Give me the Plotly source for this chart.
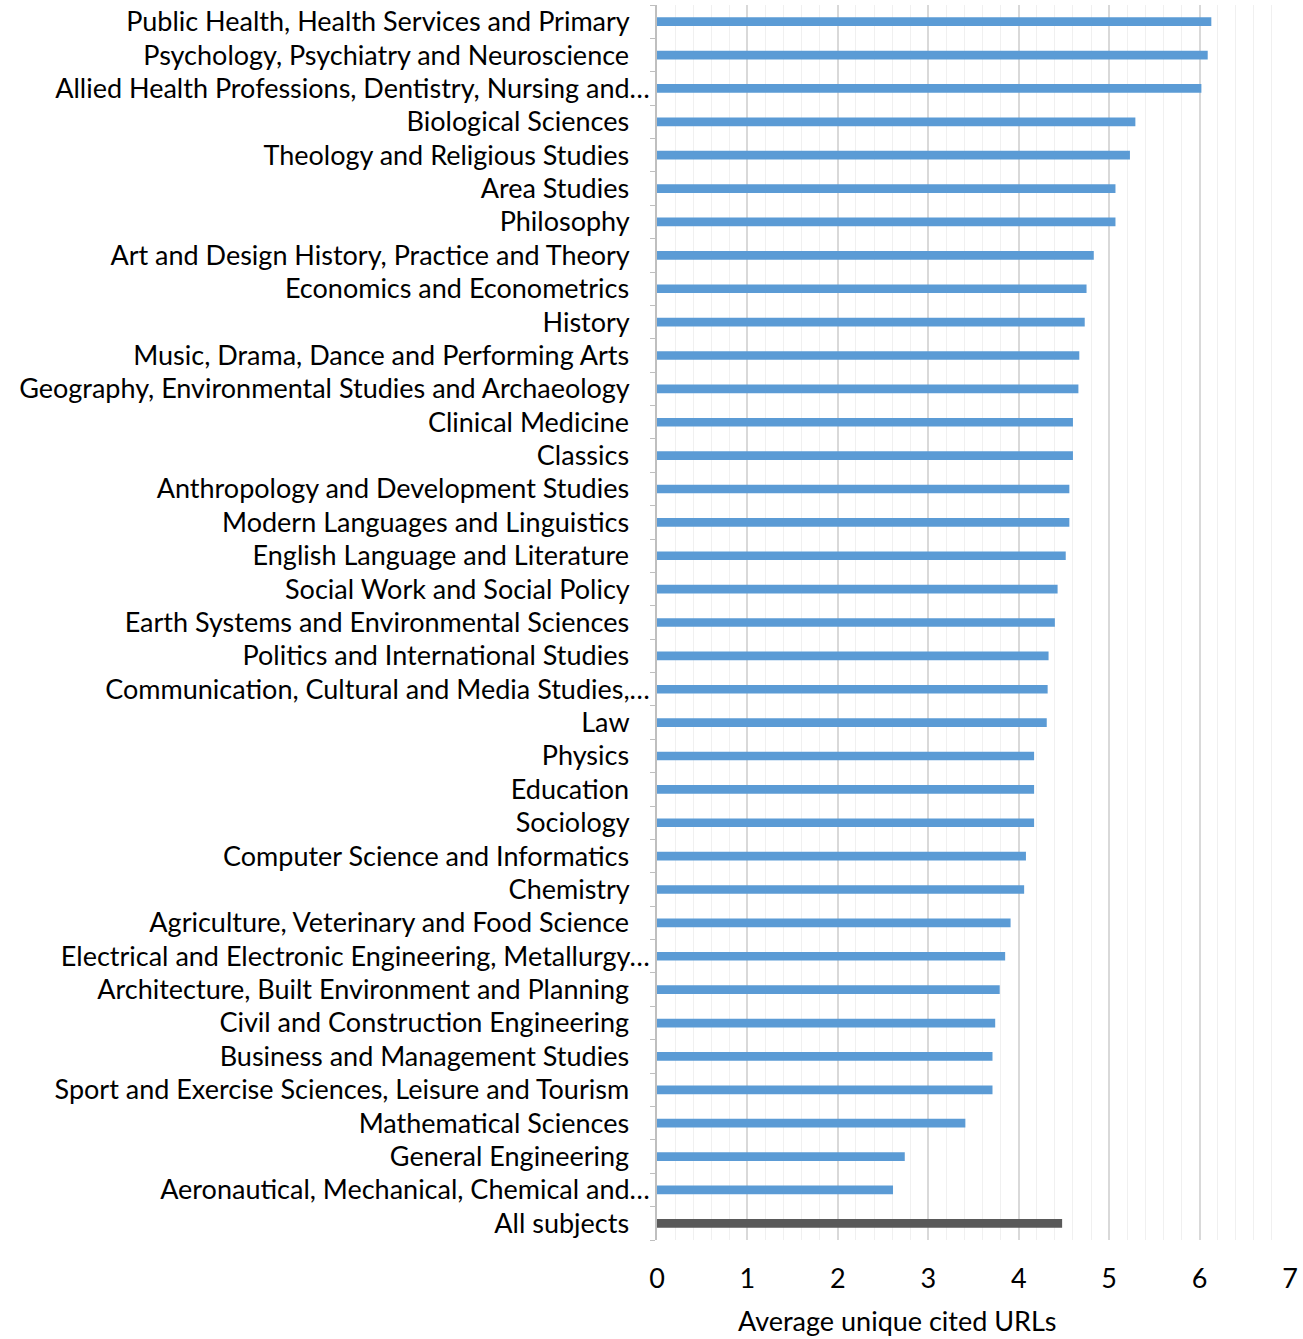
import plotly.graph_objects as go

categories = [
    "Public Health, Health Services and Primary",
    "Psychology, Psychiatry and Neuroscience",
    "Allied Health Professions, Dentistry, Nursing and…",
    "Biological Sciences",
    "Theology and Religious Studies",
    "Area Studies",
    "Philosophy",
    "Art and Design History, Practice and Theory",
    "Economics and Econometrics",
    "History",
    "Music, Drama, Dance and Performing Arts",
    "Geography, Environmental Studies and Archaeology",
    "Clinical Medicine",
    "Classics",
    "Anthropology and Development Studies",
    "Modern Languages and Linguistics",
    "English Language and Literature",
    "Social Work and Social Policy",
    "Earth Systems and Environmental Sciences",
    "Politics and International Studies",
    "Communication, Cultural and Media Studies,…",
    "Law",
    "Physics",
    "Education",
    "Sociology",
    "Computer Science and Informatics",
    "Chemistry",
    "Agriculture, Veterinary and Food Science",
    "Electrical and Electronic Engineering, Metallurgy…",
    "Architecture, Built Environment and Planning",
    "Civil and Construction Engineering",
    "Business and Management Studies",
    "Sport and Exercise Sciences, Leisure and Tourism",
    "Mathematical Sciences",
    "General Engineering",
    "Aeronautical, Mechanical, Chemical and…",
    "All subjects",
]
values = [
    6.13, 6.09, 6.02, 5.29, 5.23, 5.07, 5.07, 4.83, 4.75, 4.73,
    4.67, 4.66, 4.60, 4.60, 4.56, 4.56, 4.52, 4.43, 4.40, 4.33,
    4.32, 4.31, 4.17, 4.17, 4.17, 4.08, 4.06, 3.91, 3.85, 3.79,
    3.74, 3.71, 3.71, 3.41, 2.74, 2.61, 4.48,
]
x_ticks = [0, 1, 2, 3, 4, 5, 6, 7]
x_title = "Average unique cited URLs"

colors = ["#5B9BD5"] * (len(categories) - 1) + ["#595959"]
ticktext = [c if c.endswith("…") else c + "\u00a0\u00a0\u00a0" for c in categories]

fig = go.Figure(
    go.Bar(
        x=values,
        y=categories,
        orientation="h",
        marker=dict(color=colors, line=dict(width=0)),
        width=0.26,
    )
)

fig.update_layout(
    width=1303,
    height=1339,
    margin=dict(l=657, r=13, t=5, b=99),
    plot_bgcolor="white",
    paper_bgcolor="white",
    showlegend=False,
    font=dict(family="Lato", size=27, color="#000000"),
    bargap=0.74,
)

fig.add_annotation(
    text=x_title,
    xref="paper", yref="paper",
    x=(897 - 657) / (1290 - 657), y=0,
    xanchor="center", yanchor="middle",
    yshift=-80,
    showarrow=False,
    font=dict(size=27, color="#000000"),
)

fig.update_xaxes(
    range=[0, 7],
    tickvals=x_ticks,
    ticktext=[str(t) for t in x_ticks],
    showgrid=True,
    gridcolor="#D9D9D9",
    gridwidth=1.5,
    minor=dict(dtick=0.2, showgrid=True, gridcolor="#F0F0F0", gridwidth=1),
    zeroline=False,
    showline=False,
    ticks="",
    tickfont=dict(size=27),
    ticklabelstandoff=20,
)

fig.update_yaxes(
    autorange="reversed",
    tickmode="array",
    tickvals=categories,
    ticktext=ticktext,
    showgrid=False,
    showline=True,
    linecolor="#BFBFBF",
    linewidth=1.5,
    ticks="outside",
    tickson="boundaries",
    ticklen=5,
    tickcolor="#BFBFBF",
    ticklabelstandoff=0,
)

fig.write_html(
    "out.html",
    config={"displayModeBar": False},
    post_script="document.body.style.margin='0';",
)
